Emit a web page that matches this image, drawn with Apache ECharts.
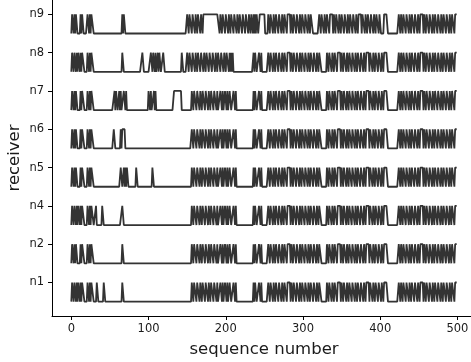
<!DOCTYPE html>
<html>
<head>
<meta charset="utf-8">
<script src="https://cdn.jsdelivr.net/npm/echarts@6/dist/echarts.min.js"></script>
<style>
  html, body { margin: 0; padding: 0; background: #fff; }
  #chart { width: 471px; height: 362px; }
</style>
</head>
<body>
<div id="chart"></div>
<script>
// 接收节点（自下而上）
const receivers = ['n1', 'n2', 'n4', 'n5', 'n6', 'n7', 'n8', 'n9'];
const xTicks = [0, 100, 200, 300, 400, 500];
const seqLength = 500;

// 每段: [起始序号, 位串]，未覆盖的位置为 0（未收到）
const sharedRight = [
    [156, '1101110111011011101110110111011101'],
    [193, '1101'], [199, '1101'], [205, '11'], [210, '1101'],
    [236, '1011'], [243, '1101'],
    [255, '110111011011101110110111011110110111011101101110111011011101110110111'],
    [331, '11011101101110111101101110110111011101101110111011011110111011011101110110111'],
    [405, '11111'],
    [424, '1101101110111011011101110110111101101110111011011101110110111011101101110111']
];

const n1Left = [[1, '1101101011'], [12, '10111'], [21, '1101'], [26, '111'], [33, '11'], [42, '11'], [66, '11']];
const n2Left = [[1, '1101011'], [12, '10111'], [21, '1101'], [26, '111'], [66, '11']];
const n4Left = [[1, '1101101011'], [12, '10111'], [21, '1101'], [26, '111'], [32, '1'], [40, '11'], [66, '11']];
const n5Left = [[1, '1101011'], [12, '10111'], [21, '1101'], [26, '111'], [64, '11'], [68, '101'], [72, '11'], [84, '11'], [105, '11']];
const n6Left = [[1, '1101011'], [12, '10111'], [21, '1101'], [26, '111'], [55, '11'], [64, '1011'], [68, '11']];
const n7Left = [[1, '1101011'], [12, '10111'], [21, '1101'], [26, '111'], [56, '1011'], [62, '101'], [68, '1101'], [100, '1101'], [107, '101'], [133, '1111111111']];
const n8Left = [[1, '1101101011'], [12, '10111'], [21, '1101'], [26, '111'], [66, '11'], [92, '11'], [103, '1101101'], [112, '1011'], [119, '11'], [143, '11']];
const n9Left = [[1, '1101011'], [12, '1011'], [21, '1101'], [26, '111'], [66, '101'], [69, '1']];

const n8Right = [
    [150, '11011101110110111011101101'],
    [176, '110111011101101110111011011101'],
    [207, '101'],
    [236, '1011'], [243, '1101'],
    [255, '110111011011101110110111011110110111011101101110111011011101110110111'],
    [331, '11011101101110111101101110110111011101101110111011011110111011011101110110111'],
    [405, '11111'],
    [424, '1101101110111011011101110110111101101110111011011101110110111011101101110111']
];
const n9Right = [
    [150, '1101110111011011101101'],
    [172, '11111111111111111111'],
    [193, '11011101110110111011101101110111011101101101'],
    [238, '1011'], [244, '1111111'],
    [255, '1101110110111011101101110111101101110111011011101110110111'],
    [321, '11011101101110111101101110110111011101101110111011011110111011011101110110111011'],
    [405, '11111'],
    [424, '1101101110111011011101110110111101101110111011011101110110111011101101110111']
];

const rowSegments = [
    n1Left.concat(sharedRight),
    n2Left.concat(sharedRight),
    n4Left.concat(sharedRight),
    n5Left.concat(sharedRight),
    n6Left.concat(sharedRight),
    n7Left.concat(sharedRight),
    n8Left.concat(n8Right),
    n9Left.concat(n9Right)
];

function buildBits(segs) {
    const bits = new Array(seqLength).fill(0);
    segs.forEach(function (seg) {
        const start = seg[0];
        const str = seg[1];
        for (let i = 0; i < str.length; i++) {
            if (start + i < seqLength) bits[start + i] = str[i] === '1' ? 1 : 0;
        }
    });
    return bits;
}

document.addEventListener('DOMContentLoaded', function () {
    const chart = echarts.init(document.getElementById('chart'), null, { renderer: 'canvas' });

    const series = rowSegments.map(function (segs, row) {
        const bits = buildBits(segs);
        return {
            type: 'line',
            name: receivers[row],
            symbol: 'none',
            animation: false,
            lineStyle: { color: '#333333', width: 1.8 },
            data: bits.map(function (b, i) { return [i, row - 0.5 + 0.5 * b]; })
        };
    });

    const axisFont = { fontFamily: 'DejaVu Sans', fontSize: 11.5, color: '#1a1a1a' };

    const option = {
        backgroundColor: '#ffffff',
        animation: false,
        grid: { left: 52, right: -5, top: 0, bottom: 46, containLabel: false, outerBoundsMode: 'none' },
        xAxis: {
            type: 'value',
            min: -25,
            max: 524,
            name: 'sequence number',
            nameLocation: 'middle',
            nameGap: 25,
            nameMoveOverlap: false,
            nameTextStyle: { fontFamily: 'DejaVu Sans', fontSize: 16.5, color: '#1a1a1a' },
            axisLine: { show: true, onZero: false, lineStyle: { color: '#000', width: 1 } },
            axisTick: { show: true, length: 4, customValues: xTicks, lineStyle: { color: '#000' } },
            axisLabel: Object.assign({ customValues: xTicks, margin: 7 }, axisFont),
            splitLine: { show: false }
        },
        yAxis: {
            type: 'value',
            min: -0.875,
            max: 7.375,
            name: 'receiver',
            nameLocation: 'middle',
            nameGap: 29,
            nameMoveOverlap: false,
            nameRotate: 90,
            nameTextStyle: { fontFamily: 'DejaVu Sans', fontSize: 16.5, color: '#1a1a1a' },
            axisLine: { show: true, onZero: false, lineStyle: { color: '#000', width: 1 } },
            axisTick: { show: true, length: 4, customValues: [0, 1, 2, 3, 4, 5, 6, 7], lineStyle: { color: '#000' } },
            axisLabel: Object.assign({
                customValues: [0, 1, 2, 3, 4, 5, 6, 7],
                margin: 8,
                formatter: function (v) { return receivers[Math.round(v)] || ''; }
            }, axisFont),
            splitLine: { show: false }
        },
        series: series
    };

    chart.setOption(option);
});
</script>
</body>
</html>
